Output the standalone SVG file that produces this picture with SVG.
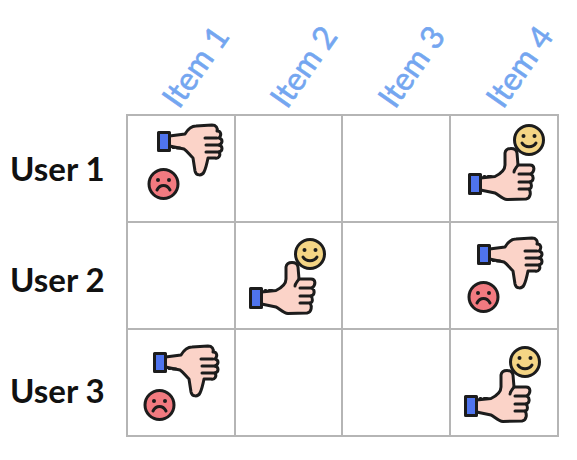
<svg xmlns="http://www.w3.org/2000/svg" width="577" height="460" viewBox="0 0 577 460">
<style>
.u{font:700 33px Lato,"Liberation Sans",sans-serif;fill:#111}
.i{font:400 32px Lato,"Liberation Sans",sans-serif;fill:#74a6f0;stroke:#74a6f0;stroke-width:.6}
.g{fill:none;stroke:#b5b5b5;stroke-width:2}
.o{stroke:#1c1c1c;stroke-width:3;stroke-linejoin:round;stroke-linecap:round}
.s{fill:#fbd3c8}.c{fill:#4f74ee}.n{fill:none}.h{fill:#f4d585}.r{fill:#f27a80}
</style>
<defs>
<symbol id="down" overflow="visible" viewBox="0 0 80 80" width="80" height="80">
<path class="o s" d="M11.500 4L27 2C30-3 33-6 38-6L54-7C58-7 60-4 59-1C63-1 64 3 61 6C65 7 65 11 61 13C65 14 65 19 61 20C63 23 61 27 57 26L50 26C49 31 48 36 46 40C44 44 38 44 37 39L35 26C31 22 29 19 26 17L11.500 14Z"/>
<rect class="o c" x="0.500" y="0.500" width="11" height="18"/>
<path class="o n" d="M15 15.500h1M19 16h3M47 6H59M48 13H61M48 20H61" stroke-width="2"/>
<circle class="o r" cx="5.500" cy="52" r="14.500"/>
<circle cx="0" cy="48" r="2" fill="#1c1c1c"/><circle cx="11" cy="48" r="2" fill="#1c1c1c"/>
<path class="o n" d="M-1 58C2 52 9 52 12 58"/>
</symbol>
<symbol id="up" overflow="visible" viewBox="0 0 80 80" width="80" height="80">
<path class="o s" d="M11.500 4L26 2.500C31 0 36-4 36-9L36-21C37-27 47-27 48-21L49-9L61-9C66-9 66-3 62 0C65 2 65 7 61 8C63 10 63 15 60 15C62 18 62 24 57 25L38 25.500C33 25 29 20 26 19L11.500 16Z"/>
<rect class="o c" x="0.500" y="0.500" width="11" height="19"/>
<path class="o n" d="M15 2.500h1M19 2.500h3M49-9C47-6 45-4 45-2M50 0H62M50 8H61M50 15H60" stroke-width="2"/>
<circle class="o h" cx="60" cy="-34" r="14.500"/>
<circle cx="54.500" cy="-38" r="2" fill="#1c1c1c"/><circle cx="65.500" cy="-38" r="2" fill="#1c1c1c"/>
<path class="o n" d="M53-31C56-26 64-26 67-31"/>
</symbol>
</defs>
<g id="grid"><rect class="g" x="127" y="115" width="431" height="321"/>
<path class="g" d="M235 115V436M342 115V436M450 115V436M127 222H558M127 329H558"/></g>
<g id="rows"><text class="u" x="10" y="181">User 1</text><text class="u" x="10" y="292">User 2</text><text class="u" x="10" y="403">User 3</text></g>
<g id="cols">
<text class="i" transform="translate(179 110) rotate(-55)">Item 1</text>
<text class="i" transform="translate(287 110) rotate(-55)">Item 2</text>
<text class="i" transform="translate(395 110) rotate(-55)">Item 3</text>
<text class="i" transform="translate(503 110) rotate(-55)">Item 4</text>
</g>
<g id="marks">
<use href="#down" x="158" y="132"/>
<use href="#up" x="469" y="174"/>
<use href="#up" x="250" y="288"/>
<use href="#down" x="478" y="245"/>
<use href="#down" x="154" y="353"/>
<use href="#up" x="465" y="396"/>
</g>
</svg>
